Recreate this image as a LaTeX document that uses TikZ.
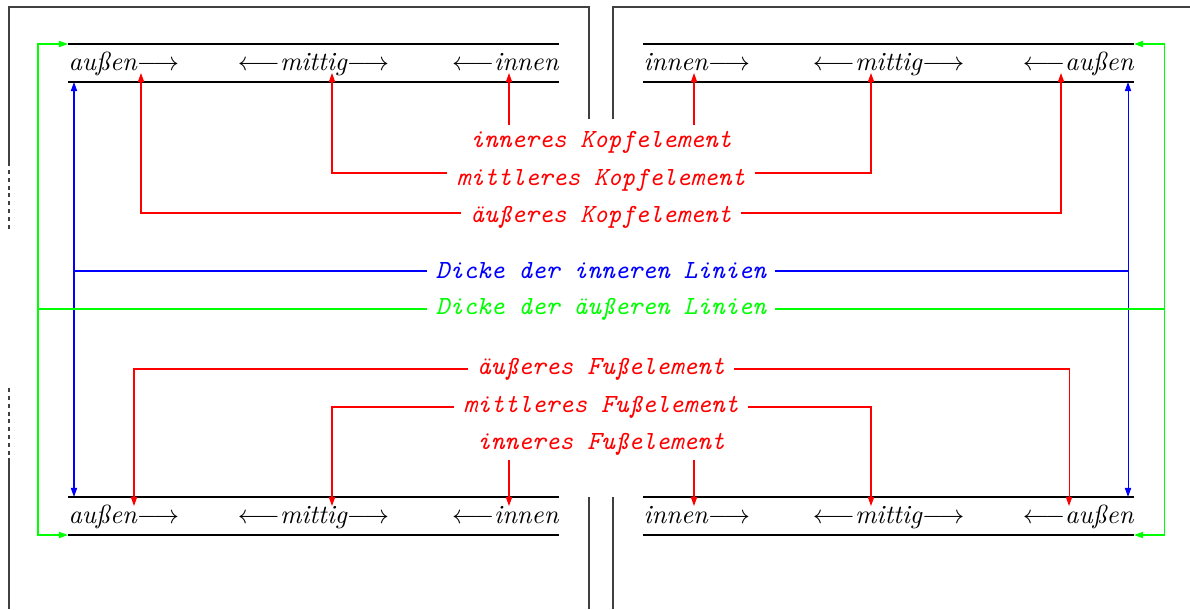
\documentclass[tikz,border=0pt]{standalone}
\usepackage{fontspec}
\usetikzlibrary{arrows.meta}
\begin{document}
\begin{tikzpicture}[x=0.3817pt,y=-0.3817pt,
  rulel/.style={line width=0.8pt},
  frame/.style={line width=0.4pt,black!75},
  lbl/.style={font=\ttfamily\itshape,inner sep=3.33pt},
  cell/.style={font=\itshape,inner sep=0pt},
  tipe/.style={-{Triangle[length=3.5pt,width=2.4pt]}},
  tipb/.style={{Triangle[length=3.5pt,width=2.4pt]}-{Triangle[length=3.5pt,width=2.4pt]}},
  conn/.style={line width=0.4pt}]
\useasboundingbox (0,0) rectangle (1190,609);
% page frames
\draw[frame] (9,162) -- (9,7) -- (589,7) -- (589,119);
\draw[frame,dash pattern=on 1.5pt off 1.5pt] (9,162) -- (9,230);
\draw[frame,dash pattern=on 1.5pt off 1.5pt] (9,388) -- (9,458);
\draw[frame] (9,458) -- (9,609);
\draw[frame] (589,497) -- (589,609);
\draw[frame] (613,119) -- (613,7) -- (1190,7);
\draw[frame] (613,497) -- (613,609);
% rule coordinates
\coordinate (r1a) at (68,44);   \coordinate (r1b) at (559,44);
\coordinate (r2a) at (68,82);   \coordinate (r2b) at (559,82);
\coordinate (r3a) at (68,497);  \coordinate (r3b) at (559,497);
\coordinate (r4a) at (68,535);  \coordinate (r4b) at (559,535);
\coordinate (s1a) at (643,44);  \coordinate (s1b) at (1134,44);
\coordinate (s2a) at (643,82);  \coordinate (s2b) at (1134,82);
\coordinate (s3a) at (643,497); \coordinate (s3b) at (1134,497);
\coordinate (s4a) at (643,535); \coordinate (s4b) at (1134,535);
\foreach \p in {r1,r2,r3,r4,s1,s2,s3,s4}{\draw[rulel] (\p a) -- (\p b);}
% table texts
\node[cell,anchor=base west] (tla) at (68,70) {außen$\longrightarrow$};
\node[cell,anchor=base] (tlm) at (313.5,70) {$\longleftarrow$mittig$\longrightarrow$};
\node[cell,anchor=base east] (tli) at (559,70) {$\longleftarrow$innen};
\node[cell,anchor=base west] (tri) at (643,70) {innen$\longrightarrow$};
\node[cell,anchor=base] (trm) at (888.5,70) {$\longleftarrow$mittig$\longrightarrow$};
\node[cell,anchor=base east] (tra) at (1134,70) {$\longleftarrow$außen};
\node[cell,anchor=base west] (bla) at (68,523) {außen$\longrightarrow$};
\node[cell,anchor=base] (blm) at (313.5,523) {$\longleftarrow$mittig$\longrightarrow$};
\node[cell,anchor=base east] (bli) at (559,523) {$\longleftarrow$innen};
\node[cell,anchor=base west] (bri) at (643,523) {innen$\longrightarrow$};
\node[cell,anchor=base] (brm) at (888.5,523) {$\longleftarrow$mittig$\longrightarrow$};
\node[cell,anchor=base east] (bra) at (1134,523) {$\longleftarrow$außen};
% labels
\node[lbl,red,anchor=north,inner ysep=2.2pt] (ki) at (601,125) {inneres Kopfelement};
\node[lbl,red,text height=9.9pt,text depth=0pt] (km) at (601,173) {mittleres Kopfelement};
\node[lbl,red,text height=6.9pt,text depth=0pt] (ka) at (601,213) {äußeres Kopfelement};
\node[lbl,blue] (bl) at (601,271) {Dicke der inneren Linien};
\node[lbl,green] (gl) at (601,309) {Dicke der äußeren Linien};
\node[lbl,red] (fa) at (601,369) {äußeres Fußelement};
\node[lbl,red] (fm) at (601,407) {mittleres Fußelement};
\node[lbl,red,anchor=south,inner ysep=1.4pt] (fi) at (601,460) {inneres Fußelement};
% red targets
\coordinate (kA1) at (141,73);  \coordinate (kA2) at (1061,73);
\coordinate (kM1) at (332,73);  \coordinate (kM2) at (871,73);
\coordinate (kI1) at (509,73);  \coordinate (kI2) at (694,73);
\coordinate (fA1) at (134,506); \coordinate (fA2) at (1069,506);
\coordinate (fM1) at (332,506); \coordinate (fM2) at (871,506);
\coordinate (fI1) at (509,506); \coordinate (fI2) at (694,506);
\draw[conn,red,tipe] (ki.north -| kI1) -- (kI1);
\draw[conn,red,tipe] (ki.north -| kI2) -- (kI2);
\draw[conn,red,tipe] (km.west) -| (kM1);
\draw[conn,red,tipe] (km.east) -| (kM2);
\draw[conn,red,tipe] (ka.west) -| (kA1);
\draw[conn,red,tipe] (ka.east) -| (kA2);
\draw[conn,red,tipe] (fa.west) -| (fA1);
\draw[conn,red,tipe] (fa.east) -| (fA2);
\draw[conn,red,tipe] (fm.west) -| (fM1);
\draw[conn,red,tipe] (fm.east) -| (fM2);
\draw[conn,red,tipe] (fi.south -| fI1) -- (fI1);
\draw[conn,red,tipe] (fi.south -| fI2) -- (fI2);
% blue
\coordinate (bT1) at (74,82);   \coordinate (bB1) at (74,497);
\coordinate (bT2) at (1128,82); \coordinate (bB2) at (1128,497);
\draw[conn,blue,tipb] (bT1) -- (bB1);
\draw[conn,blue,tipb] (bT2) -- (bB2);
\draw[conn,blue] (bl.west) -- (bl.west -| bT1);
\draw[conn,blue] (bl.east) -- (bl.east -| bT2);
% green
\coordinate (gL) at (38,309); \coordinate (gR) at (1164,309);
\draw[conn,green,tipb] (r1a) -- (r1a -| gL) -- (r4a -| gL) -- (r4a);
\draw[conn,green,tipb] (s1b) -- (s1b -| gR) -- (s4b -| gR) -- (s4b);
\draw[conn,green] (gl.west) -- (gL);
\draw[conn,green] (gl.east) -- (gR);
\end{tikzpicture}
\end{document}
